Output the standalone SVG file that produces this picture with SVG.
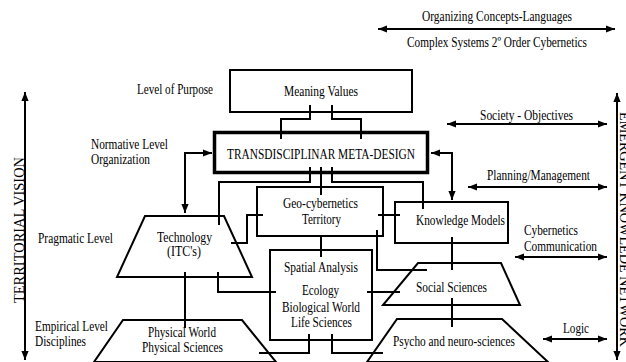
<svg xmlns="http://www.w3.org/2000/svg" width="626" height="362" viewBox="0 0 626 362">
<style>
text{font-family:"Liberation Serif","Times New Roman",serif;font-size:14px;fill:#000}
.b{fill:none;stroke:#000;stroke-width:2}
.tb{fill:none;stroke:#000;stroke-width:3.5}
.c{fill:none;stroke:#000;stroke-width:2}
.a{fill:none;stroke:#000;stroke-width:2;marker-start:url(#ah);marker-end:url(#ah)}
</style>
<defs>
<marker id="ah" viewBox="0 0 10 8" refX="10" refY="4" markerWidth="9" markerHeight="8" markerUnits="userSpaceOnUse" orient="auto-start-reverse">
<path d="M0,0 L10,4 L0,8 z" fill="#000"/>
</marker>
</defs>
<g id="connectors">
<path class="c" d="M310,105 V119 H281 V139"/>
<path class="c" d="M332,105 V119 H361 V139"/>
<path class="c" d="M310,167 V182 H219 V225"/>
<path class="c" d="M321,167 V195"/>
<path class="c" d="M332,167 V182 H423 V209"/>
<path class="c" d="M231,243 H247 V215 H263"/>
<path class="c" d="M378,215 H400"/>
<path class="c" d="M377,230 V270 H427"/>
<path class="c" d="M321,235 V257"/>
<path class="c" d="M218,272 V292 H276"/>
<path class="c" d="M185,272 V328"/>
<path class="c" d="M367,292 H400"/>
<path class="c" d="M309,334 V353 H259"/>
<path class="c" d="M332,334 V353 H383"/>
<path class="c" d="M452,237 V270"/>
<path class="c" d="M452,298 V327"/>
<path class="a" d="M185,213 V153 H212"/>
<path class="a" d="M452,200 V153 H431"/>
<path class="a" d="M378,29 H615"/>
<path class="a" d="M447,124 H607"/>
<path class="a" d="M468,187 H607"/>
<path class="a" d="M515,257 H607"/>
<path class="a" d="M543,339 H607"/>
<path class="a" d="M25,92 V360"/>
<path class="a" d="M617,93 V360"/>
</g>
<g id="meaning">
<rect class="b" x="230" y="70" width="182" height="42"/>
<text x="284" y="96" textLength="74" lengthAdjust="spacingAndGlyphs">Meaning Values</text>
</g>
<g id="transdisciplinar">
<rect class="tb" x="214.5" y="132.5" width="213" height="40"/>
<text x="227" y="159" textLength="188" lengthAdjust="spacingAndGlyphs">TRANSDISCIPLINAR META-DESIGN</text>
</g>
<g id="technology">
<path class="b" d="M145,216 H224 L252,277 H117 Z"/>
<text x="157" y="242" textLength="55" lengthAdjust="spacingAndGlyphs">Technology</text>
<text x="167" y="256" textLength="34" lengthAdjust="spacingAndGlyphs">(ITC's)</text>
</g>
<g id="geo">
<rect class="b" x="257" y="187" width="126" height="49"/>
<text x="283" y="208" textLength="75" lengthAdjust="spacingAndGlyphs">Geo-cybernetics</text>
<text x="302" y="224" textLength="39" lengthAdjust="spacingAndGlyphs">Territory</text>
</g>
<g id="knowledge">
<rect class="b" x="395" y="202" width="113" height="41"/>
<text x="416" y="225" textLength="89" lengthAdjust="spacingAndGlyphs">Knowledge Models</text>
</g>
<g id="spatial">
<rect class="b" x="270" y="250" width="102" height="90"/>
<text x="284" y="272" textLength="74" lengthAdjust="spacingAndGlyphs">Spatial Analysis</text>
<text x="302" y="295" textLength="37" lengthAdjust="spacingAndGlyphs">Ecology</text>
<text x="282" y="312" textLength="78" lengthAdjust="spacingAndGlyphs">Biological World</text>
<text x="291" y="327" textLength="61" lengthAdjust="spacingAndGlyphs">Life Sciences</text>
</g>
<g id="social">
<path class="b" d="M418,263 H501 L520,305 H383 Z"/>
<text x="416" y="292" textLength="71" lengthAdjust="spacingAndGlyphs">Social Sciences</text>
</g>
<g id="physical">
<path class="b" d="M123,320 H242 L276,362 H94 Z"/>
<text x="148" y="337" textLength="68" lengthAdjust="spacingAndGlyphs">Physical World</text>
<text x="142" y="352" textLength="81" lengthAdjust="spacingAndGlyphs">Physical Sciences</text>
</g>
<g id="psycho">
<path class="b" d="M397,319 H502 L548,362 H367 Z"/>
<text x="393" y="346" textLength="122" lengthAdjust="spacingAndGlyphs">Psycho and neuro-sciences</text>
</g>
<g id="labels">
<text x="422" y="21" textLength="150" lengthAdjust="spacingAndGlyphs">Organizing Concepts-Languages</text>
<text x="407" y="47" textLength="180" lengthAdjust="spacingAndGlyphs">Complex Systems 2º Order Cybernetics</text>
<text x="137" y="94" textLength="76" lengthAdjust="spacingAndGlyphs">Level of Purpose</text>
<text x="480" y="120" textLength="93" lengthAdjust="spacingAndGlyphs">Society - Objectives</text>
<text x="91" y="149" textLength="77" lengthAdjust="spacingAndGlyphs">Normative Level</text>
<text x="91" y="164" textLength="59" lengthAdjust="spacingAndGlyphs">Organization</text>
<text x="487" y="180" textLength="103" lengthAdjust="spacingAndGlyphs">Planning/Management</text>
<text x="38" y="243" textLength="75" lengthAdjust="spacingAndGlyphs">Pragmatic Level</text>
<text x="524" y="235" textLength="54" lengthAdjust="spacingAndGlyphs">Cybernetics</text>
<text x="524" y="251" textLength="73" lengthAdjust="spacingAndGlyphs">Communication</text>
<text x="35" y="331" textLength="73" lengthAdjust="spacingAndGlyphs">Empirical Level</text>
<text x="35" y="346" textLength="51" lengthAdjust="spacingAndGlyphs">Disciplines</text>
<text x="563" y="333" textLength="26" lengthAdjust="spacingAndGlyphs">Logic</text>
<text transform="translate(23.5,230) rotate(-90)" x="-73" y="0" textLength="146" lengthAdjust="spacingAndGlyphs">TERRITORIAL VISION</text>
<text transform="translate(620,229.5) rotate(90)" x="-117.5" y="0" textLength="235" lengthAdjust="spacingAndGlyphs">EMERGENT KNOWLEDE NETWORK</text>
</g>
</svg>
